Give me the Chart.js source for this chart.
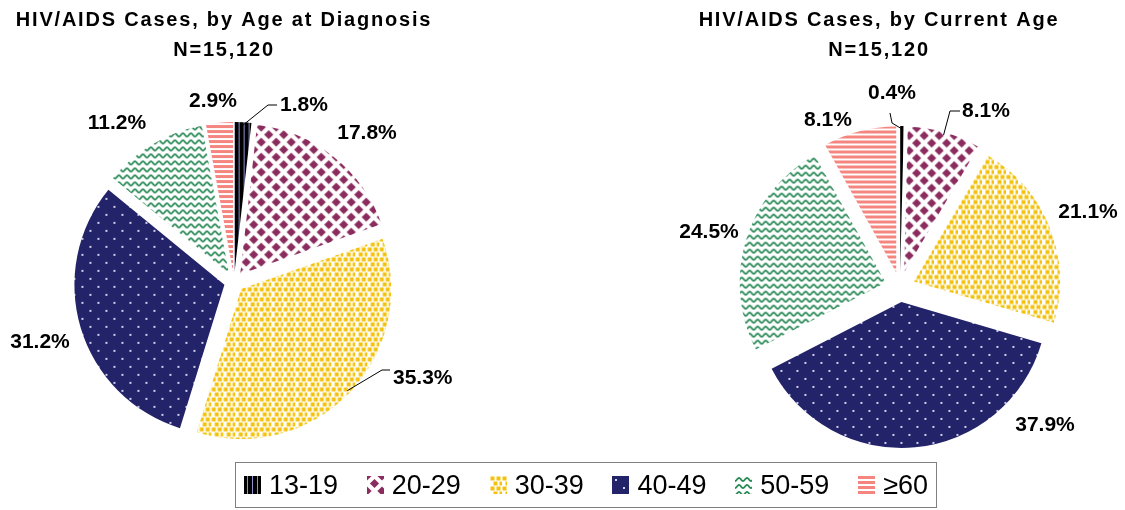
<!DOCTYPE html>
<html>
<head>
<meta charset="utf-8">
<script src="https://cdn.jsdelivr.net/npm/chart.js@4"></script>
<style>
  body { margin: 0; background: #fff; width: 1125px; height: 510px; position: relative; overflow: hidden;
         font-family: "Liberation Sans", Arial, sans-serif; }
  #cL { position: absolute; left: 0; top: 0; }
  #cR { position: absolute; left: 680px; top: 0; }
  #legend { position: absolute; left: 235px; top: 462px; width: 702px; height: 46px; box-sizing: border-box;
            border: 1px solid #7f7f7f; display: flex; align-items: center; justify-content: space-between;
            padding: 0 8px 0 8px; font-size: 27px; color: #000; }
  #legend span { display: flex; align-items: center; }
  #legend canvas { margin-right: 8px; }
</style>
</head>
<body>
<canvas id="cL" width="468" height="499"></canvas>
<canvas id="cR" width="440" height="509"></canvas>
<div id="legend"></div>
<script>
const ageGroups = ['13-19', '20-29', '30-39', '40-49', '50-59', '≥60'];
const diagnosisPct = [1.8, 17.8, 35.3, 31.2, 11.2, 2.9];
const currentPct = [0.4, 8.1, 21.1, 37.9, 24.5, 8.1];
const diagnosisTitle = ['HIV/AIDS Cases, by Age at Diagnosis', 'N=15,120'];
const currentTitle = ['HIV/AIDS Cases, by Current Age', 'N=15,120'];

// where the % labels sit, relative to the pie centre ('l' = text starts there)
const diagLabelPos = [[46, -177, 'l'], [133, -149], [159, 96, 'l'], [-194, 60], [-117, -159], [-21, -181]];
const currLabelPos = [[-8, -194], [62, -176, 'l'], [188, -75], [145, 138], [-191, -55], [-72, -167]];
// leader lines: elbow and end, relative to the label anchor
const diagLeaders = { 0: [[-12, 0], [-3, 0]], 2: [[-11, -8], [-3, -8]] };
const currLeaders = { 0: [[0, 30], [-2, 20]], 1: [[-12, 0], [-2, 0]] };

const FONT = '"Liberation Sans", Arial, sans-serif';

function tile(w, h, paint) {
    const c = document.createElement('canvas');
    c.width = w; c.height = h;
    const t = c.getContext('2d');
    paint(t, w, h);
    return t.createPattern(c, 'repeat');
}
function diamond(t, cx, cy, r) {
    t.beginPath();
    t.moveTo(cx, cy - r); t.lineTo(cx + r, cy); t.lineTo(cx, cy + r); t.lineTo(cx - r, cy);
    t.closePath(); t.fill();
}

const fills = [
    tile(5, 5, (t) => { t.fillStyle = '#000'; t.fillRect(0, 0, 5, 5); t.fillStyle = '#9090d0'; t.fillRect(3, 0, 1, 5); }),
    tile(15, 15, (t) => {
        t.fillStyle = '#fff'; t.fillRect(0, 0, 15, 15);
        t.fillStyle = '#8b2c5e';
        [[0, 0], [15, 0], [0, 15], [15, 15], [7.5, 7.5]].forEach(p => diamond(t, p[0], p[1], 4.6));
    }),
    tile(12, 10, (t) => {
        t.fillStyle = '#fff'; t.fillRect(0, 0, 12, 10);
        t.fillStyle = '#f4c20c';
        [[0.5, 0.5], [6.5, 0.5], [3.5, 5.5], [9.5, 5.5]].forEach(p => t.fillRect(p[0], p[1], 4, 4));
    }),
    tile(16, 16, (t) => {
        t.fillStyle = '#23236a'; t.fillRect(0, 0, 16, 16);
        t.fillStyle = '#d0d0ec';
        t.fillRect(3, 3, 2, 2); t.fillRect(11, 11, 2, 2);
    }),
    tile(8, 7, (t) => {
        t.fillStyle = '#fff'; t.fillRect(0, 0, 8, 7);
        t.strokeStyle = '#2a8a58'; t.lineWidth = 1.8;
        t.beginPath();
        for (let x = -1; x <= 9; x += 0.5) {
            const y = 3.5 + 1.5 * Math.cos(2 * Math.PI * x / 8);
            if (x === -1) t.moveTo(x, y); else t.lineTo(x, y);
        }
        t.stroke();
    }),
    tile(5, 5, (t) => { t.fillStyle = '#fff'; t.fillRect(0, 0, 5, 5); t.fillStyle = '#f4857f'; t.fillRect(0, 0, 5, 3); })
];

const pieDecor = {
    id: 'pieDecor',
    beforeDraw(chart) { chart.ctx.letterSpacing = '1.8px'; },
    afterLayout(chart, args, opts) {
        const t = chart.titleBlock;
        if (t && opts.titleShift) { t.left += opts.titleShift; t.right += opts.titleShift; }
    },
    beforeDatasetsDraw(chart, args, opts) {
        const ctx = chart.ctx;
        ctx.letterSpacing = '0px';
        // pull every slice out from the centre
        chart.getDatasetMeta(0).data.forEach(arc => {
            const mid = (arc.startAngle + arc.endAngle) / 2;
            ctx.save();
            ctx.translate(Math.cos(mid) * opts.explode, Math.sin(mid) * opts.explode);
            arc.draw(ctx);
            ctx.restore();
        });
        return false;
    },
    afterDraw(chart, args, opts) {
        const ctx = chart.ctx;
        const meta = chart.getDatasetMeta(0);
        const values = chart.data.datasets[0].data;
        ctx.save();
        ctx.letterSpacing = '0px';
        ctx.font = 'bold 21px ' + FONT;
        ctx.fillStyle = '#000';
        ctx.strokeStyle = '#000';
        ctx.lineWidth = 1;
        ctx.textBaseline = 'middle';
        meta.data.forEach((arc, i) => {
            const p = opts.labelPos[i];
            const x = arc.x + p[0], y = arc.y + p[1];
            ctx.textAlign = p[2] === 'l' ? 'left' : 'center';
            ctx.fillText(values[i].toFixed(1) + '%', x, y);
            const ld = opts.leaders[i];
            if (ld) {
                const mid = (arc.startAngle + arc.endAngle) / 2;
                const d = arc.outerRadius + opts.explode - 3;
                ctx.beginPath();
                ctx.moveTo(arc.x + Math.cos(mid) * d, arc.y + Math.sin(mid) * d);
                ctx.lineTo(x + ld[0][0], y + ld[0][1]);
                ctx.lineTo(x + ld[1][0], y + ld[1][1]);
                ctx.stroke();
            }
        });
        ctx.restore();
    }
};

function makePie(id, values, title, radius, decor) {
    return new Chart(document.getElementById(id), {
        type: 'pie',
        data: {
            labels: ageGroups,
            datasets: [{ data: values, backgroundColor: fills, borderWidth: 0 }]
        },
        options: {
            responsive: false,
            animation: false,
            events: [],
            radius: radius,
            plugins: {
                legend: { display: false },
                tooltip: { enabled: false },
                title: {
                    display: true,
                    text: title,
                    color: '#000',
                    font: { family: FONT, size: 20, weight: 'bold', lineHeight: 1.5 },
                    padding: { top: 5, bottom: 0 }
                },
                pieDecor: decor
            }
        },
        plugins: [pieDecor]
    });
}

makePie('cL', diagnosisPct, diagnosisTitle, 150,
    { explode: 10, labelPos: diagLabelPos, leaders: diagLeaders, titleShift: -10 });
makePie('cR', currentPct, currentTitle, 146,
    { explode: 15, labelPos: currLabelPos, leaders: currLeaders, titleShift: -21 });

// shared legend
const legend = document.getElementById('legend');
ageGroups.forEach((g, i) => {
    const item = document.createElement('span');
    const sw = document.createElement('canvas');
    sw.width = 17; sw.height = 18;
    const sctx = sw.getContext('2d');
    sctx.fillStyle = fills[i];
    sctx.fillRect(0, 0, 17, 18);
    item.appendChild(sw);
    item.appendChild(document.createTextNode(g));
    legend.appendChild(item);
});
</script>
</body>
</html>
